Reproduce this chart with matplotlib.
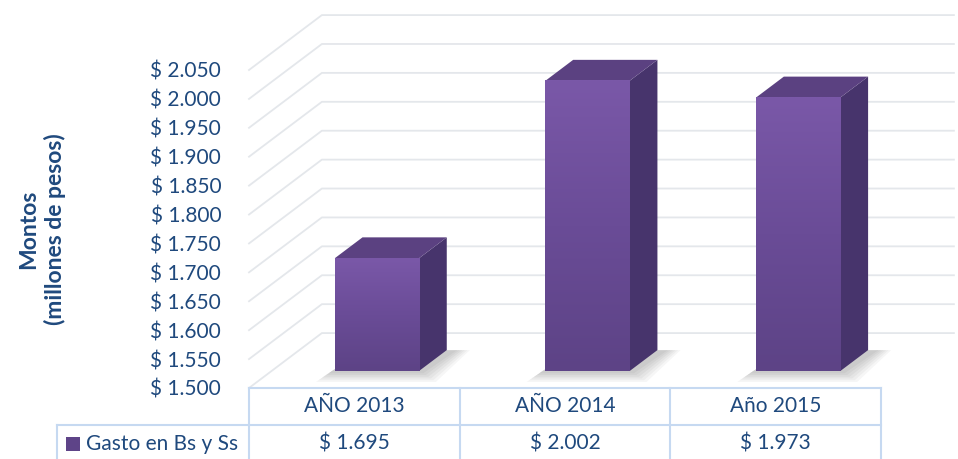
import numpy as np
import matplotlib
matplotlib.use("Agg")
import matplotlib.pyplot as plt
from matplotlib.patches import Polygon, Rectangle
from matplotlib.colors import LinearSegmentedColormap

# datos del gráfico
categorias = ["AÑO 2013", "AÑO 2014", "Año 2015"]
gasto = [1695, 2002, 1973]
serie = "Gasto en Bs y Ss"
valores_tabla = ["$ 1.695", "$ 2.002", "$ 1.973"]
ticks_y = list(range(1500, 2051, 50))

AZUL = "#1f497d"
BORDE = "#c6d9f1"
GRID = "#e4e7eb"

plt.rcParams["font.family"] = ["Lato", "DejaVu Sans"]

fig = plt.figure(figsize=(9.58, 4.59), dpi=100)
ax = fig.add_axes([249 / 958, 71 / 459, 632 / 958, 318 / 459])
for s in ax.spines.values():
    s.set_visible(False)

DX, DY = 0.346, 95      # profundidad del efecto 3D (en unidades de datos)
F0, F1 = 0.31, 0.69     # posición de las barras dentro de la profundidad
ANCHO = 0.40
COL_IZQ = 0.91          # ancho de la primera columna de la tabla

# paredes: lineas de cuadricula (lateral + fondo)
for v in ticks_y:
    ax.plot([-0.5, -0.5 + DX, 2.5 + DX], [v, v + DY, v + DY],
            color=GRID, lw=1.3, clip_on=False, zorder=1)

frente = LinearSegmentedColormap.from_list("frente", ["#5d4386", "#6a4c97", "#7a58a8"])
grad = np.linspace(0, 1, 200).reshape(-1, 1)
base = 1500

for i, v in enumerate(gasto):
    xl = i - ANCHO / 2 + F0 * DX
    xr = i + ANCHO / 2 + F0 * DX
    y0 = base + F0 * DY
    y1 = v + F0 * DY
    ddx = (F1 - F0) * DX
    ddy = (F1 - F0) * DY

    # sombra
    for k in range(6):
        e = 0.012 * k
        sombra = Polygon([(xl - 0.03 - e, y0 - 4 - 3 * k), (xr + 0.02 + e, y0 - 4 - 3 * k),
                          (xr + ddx + 0.05 + e, y0 + ddy), (xl + ddx, y0 + ddy)],
                         closed=True, facecolor="#000000", alpha=0.035,
                         edgecolor="none", zorder=2, clip_on=False)
        ax.add_patch(sombra)

    ax.imshow(grad, extent=[xl, xr, y0, y1], origin="lower", aspect="auto",
              cmap=frente, zorder=4, clip_on=False)
    lado = Polygon([(xr, y0), (xr + ddx, y0 + ddy), (xr + ddx, y1 + ddy), (xr, y1)],
                   closed=True, facecolor="#47346c", edgecolor="none", zorder=3, clip_on=False)
    tapa = Polygon([(xl, y1), (xr, y1), (xr + ddx, y1 + ddy), (xl + ddx, y1 + ddy)],
                   closed=True, facecolor="#5b4181", edgecolor="none", zorder=3, clip_on=False)
    ax.add_patch(lado)
    ax.add_patch(tapa)

ax.set_xlim(-0.5, 2.5)
ax.set_ylim(1500, 2050)
ax.set_xticks([])
ax.set_yticks(ticks_y, [f"$ {v:,}".replace(",", ".") for v in ticks_y])
ax.tick_params(axis="y", length=0, pad=20, labelsize=15, labelcolor=AZUL)

# tabla de datos
tr = ax.get_xaxis_transform()
fila1 = -37 / 318
fondo = -75 / 318
ax.plot([-0.5, 2.5], [0, 0], color=BORDE, lw=1.5, transform=tr, clip_on=False)
ax.plot([-0.5 - COL_IZQ, 2.5], [fila1, fila1], color=BORDE, lw=1.5, transform=tr, clip_on=False)
for xv in [-0.5, 0.5, 1.5, 2.5]:
    ax.plot([xv, xv], [0, fondo], color=BORDE, lw=1.5, transform=tr, clip_on=False)
ax.plot([-0.5 - COL_IZQ] * 2, [fila1, fondo], color=BORDE, lw=1.5, transform=tr, clip_on=False)

for i, (cat, val) in enumerate(zip(categorias, valores_tabla)):
    ax.text(i, -18 / 318, cat, transform=tr, ha="center", va="center",
            fontsize=15, color=AZUL)
    ax.text(i, -55 / 318, val, transform=tr, ha="center", va="center",
            fontsize=15, color=AZUL)

ax.add_patch(Rectangle((-0.5 - COL_IZQ + 0.043, -63 / 318), 0.066, 14 / 318,
                       transform=tr, facecolor="#5e4488", edgecolor="none", clip_on=False))
ax.text(-0.5 - COL_IZQ + 0.138, -56 / 318, serie, transform=tr, ha="left", va="center",
        fontsize=15, color=AZUL)

fig.text(42 / 958, 1 - 229 / 459, "Montos\n(millones de pesos)", rotation=90,
         ha="center", va="center", fontweight="bold", color=AZUL, fontsize=16.5,
         linespacing=1.3, multialignment="center")

fig.savefig("out.png", dpi=100)
